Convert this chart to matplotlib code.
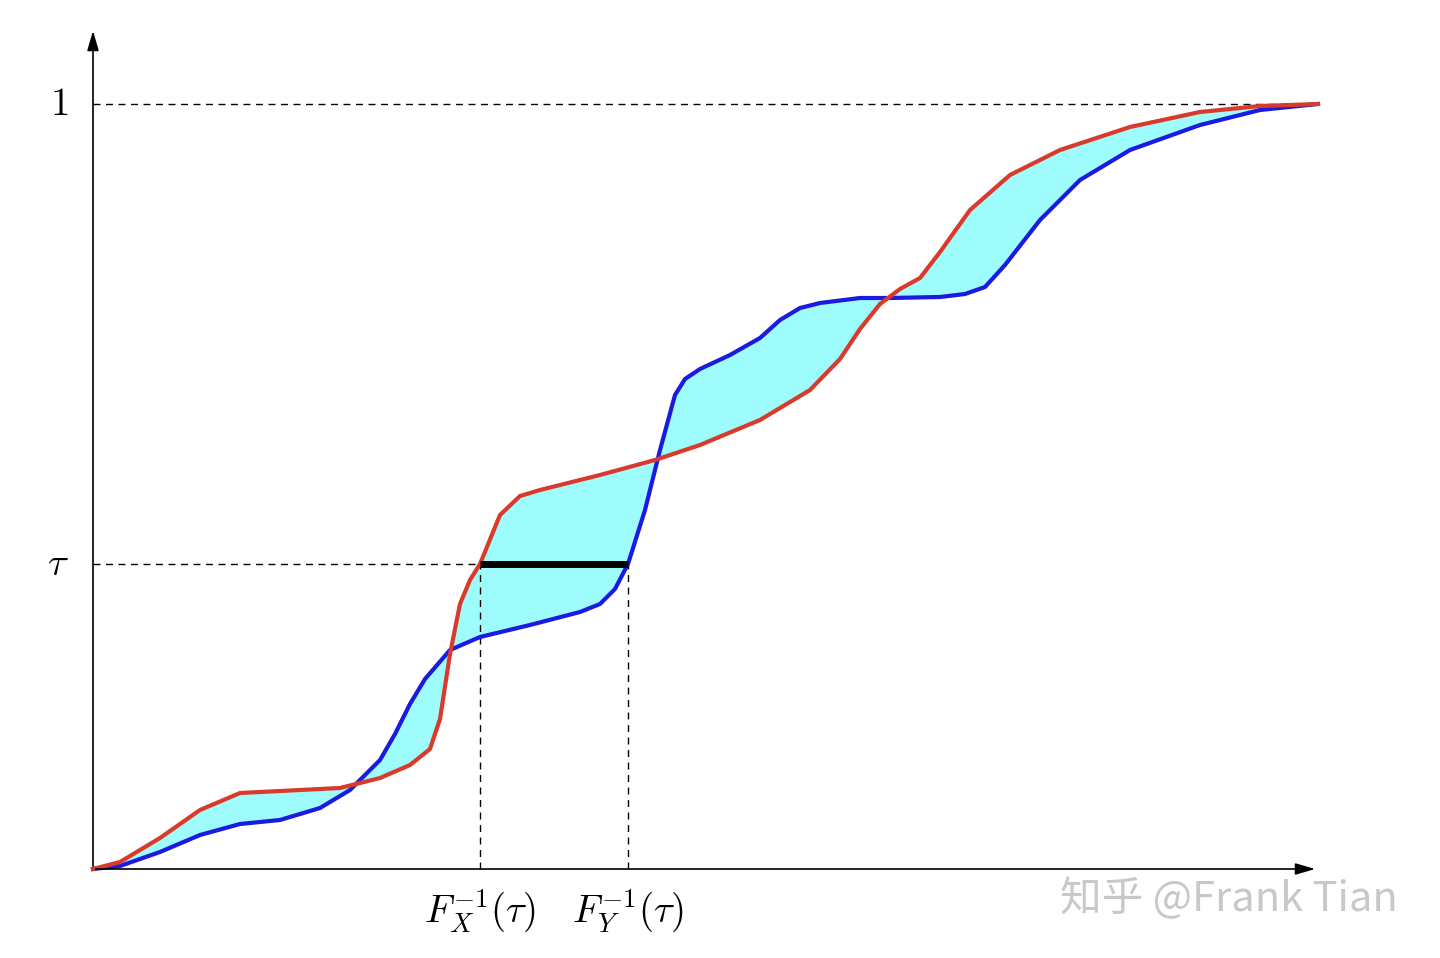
import matplotlib.pyplot as plt
import numpy as np

plt.rcParams["mathtext.fontset"] = "cm"

# Curves, in normalised units (x: 0..1, y: 0..1)
fy_x = np.array([0, 27, 67, 107, 147, 187, 227, 257, 287, 302, 317, 332, 357, 387, 437, 487, 507,
                 522, 535, 552, 567, 582, 592, 607, 637, 667, 687, 707, 727, 767, 797, 847, 872,
                 892, 912, 947, 987, 1037, 1107, 1167, 1225]) / 1225
fy_y = np.array([0, 3, 17, 34, 45, 49, 61, 79, 109, 135, 165, 190, 219, 232, 244, 257, 265,
                 280, 305, 359, 419, 474, 490, 500, 514, 531, 549, 561, 566, 571, 571, 572, 575,
                 582, 604, 649, 689, 719, 744, 759, 765]) / 765
fx_x = np.array([0, 27, 67, 107, 147, 187, 247, 287, 317, 337, 347, 357, 367, 377, 387, 407, 427,
                 447, 507, 562, 607, 667, 717, 747, 767, 787, 807, 827, 847, 877, 917, 967, 1037,
                 1107, 1167, 1225]) / 1225
fx_y = np.array([0, 7, 31, 59, 76, 78, 81, 91, 104, 120, 150, 215, 265, 289, 305, 354, 373,
                 379, 394, 409, 424, 449, 479, 510, 540, 565, 580, 591, 617, 659, 694, 719, 742,
                 757, 763, 765]) / 765
tau = 305 / 765
qx = 387 / 1225
qy = 535 / 1225

fig = plt.figure(figsize=(14.4, 9.58), dpi=100)
ax = fig.add_axes([0, 0, 1, 1])
ax.set_xlim(-93 / 1225, 1347 / 1225)
ax.set_ylim(-89 / 765, 869 / 765)
ax.axis("off")

poly_x = np.concatenate([fx_x, fy_x[::-1]])
poly_y = np.concatenate([fx_y, fy_y[::-1]])
ax.fill(poly_x, poly_y, color="#9ffcfc", lw=0, zorder=1)

ax.plot(fy_x, fy_y, color="#1a1ae0", lw=3, zorder=3, solid_joinstyle="round")
ax.plot(fx_x, fx_y, color="#d93a2b", lw=3, zorder=3, solid_joinstyle="round")

dash = dict(color="black", lw=1, ls=(0, (5, 4)), zorder=2)
ax.plot([0, 1], [1, 1], **dash)
ax.plot([0, qx], [tau, tau], **dash)
ax.plot([qx, qx], [0, tau], **dash)
ax.plot([qy, qy], [0, tau], **dash)
ax.plot([qx, qy], [tau, tau], color="black", lw=5, zorder=4, solid_capstyle="butt")

arrow = dict(arrowstyle="-|>,head_length=1.2,head_width=0.35", color="black", lw=1.2)
ax.annotate("", xy=(1.0, 0), xytext=(0, 0), arrowprops=arrow)
ax.annotate("", xy=(0, 841 / 765), xytext=(0, 0), arrowprops=arrow)

ax.text(-0.02, 1, r"$1$", fontsize=28, ha="right", va="center")
ax.text(-0.02, tau, r"$\tau$", fontsize=28, ha="right", va="center")
ax.text(qx, -0.025, r"$F_X^{-1}(\tau)$", fontsize=28, ha="center", va="top")
ax.text(qy, -0.025, r"$F_Y^{-1}(\tau)$", fontsize=28, ha="center", va="top")

ax.text(1305 / 1225, -30 / 765, "知乎 @Frank Tian", fontsize=30, color="#c8c8c8",
        ha="right", va="center", fontweight="light",
        family=["Noto Sans CJK SC", "DejaVu Sans"])

fig.savefig("out.png", dpi=100)
